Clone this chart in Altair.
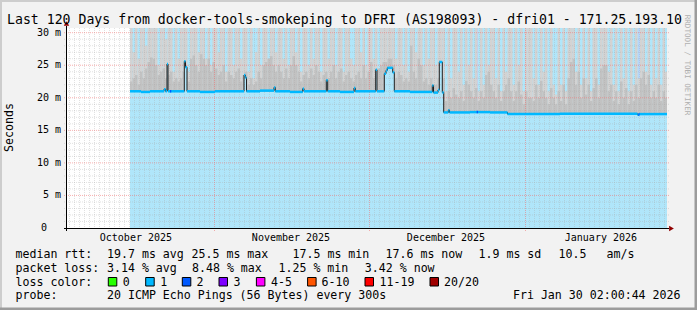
import altair as alt
import pandas as pd
import numpy as np

# ------------------------------------------------------------------ data
title_text = "Last 120 Days from docker-tools-smokeping to DFRI (AS198093) - dfri01 - 171.25.193.10"
y_title = "Seconds"
watermark = "RRDTOOL / TOBI OETIKER"

# x is measured in days since the graph start (Oct 2 2025 02:00)
month_labels = ["October 2025", "November 2025", "December 2025", "January 2026"]
month_label_day = [13.78, 44.8, 75.8, 106.78]
month_start_day = [29.5, 60.5, 91.7]

y_tick_values = [5, 10, 15, 20, 25, 30]
y_tick_labels = ["5 m", "10 m", "15 m", "20 m", "25 m", "30 m"]

median_day = [12.6, 14.8, 16.6, 19.4, 19.7, 20.0, 20.2, 23.46, 23.7, 24.0, 26.6, 29.6,
              35.4, 35.66, 35.9, 38.6, 41.4, 41.66, 44.6, 47.14, 47.4, 51.86, 52.14,
              54.6, 57.4, 57.66, 61.74, 62.0, 63.46, 63.8, 64.06, 65.14, 65.46, 68.6,
              73.06, 73.3, 74.2, 74.46, 75.06, 75.34, 76.26, 76.5, 80.6, 84.6, 88.1,
              98.6, 114.1, 114.4, 120.0]
median_ms = [21.0, 20.9, 21.0, 21.3, 21.0, 25.2, 21.0, 25.6, 24.7, 21.0, 20.9, 21.0,
             23.5, 23.1, 21.0, 21.1, 21.6, 21.0, 20.9, 21.4, 21.0, 22.7, 21.0,
             20.9, 21.5, 21.0, 24.3, 21.0, 23.7, 24.2, 24.6, 23.9, 21.0, 20.9,
             21.9, 20.8, 21.2, 25.5, 20.8, 17.75, 18.1, 17.75, 17.8, 17.75, 17.5,
             17.55, 17.4, 17.5, 17.5]

# slots where 2 of 20 pings were lost
loss2_day = [20.6, 81.94, 114.26]
loss2_ms = [21.0, 17.8, 17.45]

# smoke: one value per half-day slot, starting at day 12.6 (31 = off the top of the chart)
smoke_start_day = 12.6
smoke_outer_ms = [
    31, 27, 31, 26, 31, 31, 28, 31, 31, 31,
    31, 25, 31, 31, 29, 31, 31, 24, 31, 26,
    31, 31, 31, 24, 31, 31, 31, 27, 31, 31,
    26, 31, 25, 31, 31, 27, 31, 31, 24, 31,
    31, 25, 31, 31, 26, 31, 31, 24, 31, 23,
    27, 31, 25, 31, 31, 26, 31, 31, 27, 31,
    31, 26, 31, 25, 31, 31, 27, 31, 24, 31,
    31, 25, 31, 26, 31, 31, 24, 31, 31, 26,
    31, 31, 25, 31, 31, 24, 31, 31, 26, 25,
    31, 31, 27, 31, 25, 31, 31, 26, 31, 24,
    31, 31, 31, 31, 31, 31, 26, 31, 31, 25,
    31, 24, 31, 31, 27, 31, 31, 25, 31, 26,
    31, 31, 25, 31, 31, 31, 21, 31, 23, 31,
    31, 24, 31, 22, 31, 25, 31, 23, 31, 21,
    31, 22, 31, 25, 31, 31, 23, 31, 21, 31,
    24, 31, 31, 22, 31, 25, 31, 21, 31, 31,
    31, 23, 31, 22, 31, 24, 31, 21, 31, 22,
    20.5, 31, 22, 31, 21, 31, 31, 31, 24, 31,
    22, 31, 23, 31, 21, 31, 31, 22, 31, 31,
    31, 24, 31, 22, 31, 21, 31, 23, 31, 21,
    31, 22, 31, 23, 31, 31, 24, 31, 22, 31,
    23, 31, 22, 31, 24]
smoke_inner_ms = [
    22.5, 23, 23.5, 22, 24, 23, 24.5, 25.5, 26.2, 26,
    25, 23.5, 24, 24.5, 23, 23.5, 24, 22.5, 23, 22.5,
    23, 24, 25, 22.5, 26, 26.5, 25, 24, 26.7, 26,
    25, 26, 24, 25.5, 24.5, 23.5, 24, 25, 22.5, 24,
    23.5, 23, 24, 24.5, 22.5, 23.5, 24, 22, 23, 22,
    22.5, 24, 23, 25, 25.5, 26, 26.4, 25, 24, 25,
    24, 23, 24.5, 23, 25, 26.4, 25, 24, 22.5, 23.5,
    24, 23, 24.5, 23.5, 25, 24, 22.5, 23.5, 24, 23,
    24, 25, 23, 24, 24.5, 22.5, 23.5, 24, 23, 22.5,
    23.5, 24, 23, 25, 23, 24, 25.5, 23, 24, 24.5,
    25, 25.5, 25.5, 26, 26, 25, 23, 24, 23.5, 22.5,
    23, 22.5, 28, 24, 23, 26, 25, 22.5, 23, 22,
    23, 22, 22, 23, 24, 23, 19.5, 21, 20, 21.5,
    20.5, 20, 21, 19.5, 22.6, 22, 21, 20, 21.5, 19.5,
    21, 20, 23.5, 24, 22, 21, 20, 22, 19.5, 21,
    22, 23, 21, 19.5, 21, 22.5, 20.5, 19, 21, 20,
    20, 19.5, 22, 20, 22.6, 21, 20, 19, 21.5, 20,
    19, 21, 19.5, 22, 19, 23, 25.5, 26, 22, 24,
    20, 23, 20.5, 22, 19.5, 21.5, 23, 20, 24.5, 25,
    25, 21, 22, 19.5, 21, 19, 22.5, 20, 21.5, 19,
    21, 19.5, 22, 20, 23, 24, 22, 23.5, 20, 21,
    20, 22, 19.5, 21, 20]

legend_rtt = ["median rtt:", "19.7 ms avg", "25.5 ms max", "17.5 ms min",
              "17.6 ms now", "1.9 ms sd", "10.5", "am/s"]
legend_loss = ["packet loss:", "3.14 % avg", "8.48 % max", "1.25 % min", "3.42 % now"]
legend_color_title = "loss color:"
loss_labels = ["0", "1", "2", "3", "4-5", "6-10", "11-19", "20/20"]
loss_colors = ["#26ff00", "#00b8ff", "#0059ff", "#7e00ff", "#ff00ff", "#ff5500", "#ff0000", "#a00000"]
legend_probe = ["probe:", "20 ICMP Echo Pings (56 Bytes) every 300s", "Fri Jan 30 02:00:44 2026"]

# ------------------------------------------------------------------ layout / style
FONT = "DejaVu Sans Mono"
W, H = 600, 200
PL, PT = 67, 28          # plot origin on the page
YMAX = 30.72
LIGHTBLUE = "#B0E6FA"
LOSS2_BG = "#B9CCFB"
SMOKE_OUT = "#D3D3D3"
SMOKE_IN = "#C2C2C2"
GRID = "#A8A8A8"
MGRID = "#F07070"
ARROW = "#900000"

xs = alt.Scale(domain=[0, 120], nice=False, zero=False)
ys = alt.Scale(domain=[0, YMAX], nice=False, zero=False)
one = pd.DataFrame({"a": [0]})


def X(f):
    return alt.X(f, type="quantitative", scale=xs, axis=None)


def Y(f):
    return alt.Y(f, type="quantitative", scale=ys, axis=None)


def ax(px):   # absolute page x -> plot coords
    return px - PL


def ay(py):
    return py - PT


def txt(s, x, y, size=11.6, align="left", baseline="alphabetic", angle=0, color="#000000"):
    return alt.Chart(one).mark_text(text=s, font=FONT, fontSize=size, align=align,
                                    baseline=baseline, angle=angle, color=color).encode(
        x=alt.value(x), y=alt.value(y))


def box(x0, x1, y0, y1, fill, stroke=None):
    kw = dict(fill=fill)
    if stroke:
        kw.update(stroke=stroke, strokeWidth=1)
    return alt.Chart(one).mark_rect(**kw).encode(
        x=alt.value(x0), x2=alt.value(x1), y=alt.value(y0), y2=alt.value(y1))


layers = []

# light blue loss background over the measured period
bg = pd.DataFrame({"d0": [median_day[0]], "d1": [median_day[-1]]})
layers.append(alt.Chart(bg).mark_rect(color=LIGHTBLUE).encode(
    x=X("d0"), x2="d1", y=alt.value(0), y2=alt.value(H)))

l2 = pd.DataFrame({"d0": loss2_day, "d1": [d + 0.25 for d in loss2_day], "ms": loss2_ms})
layers.append(alt.Chart(l2).mark_rect(color=LOSS2_BG).encode(
    x=X("d0"), x2="d1", y=alt.value(0), y2=alt.value(H)))

# smoke (outer band first, inner band drawn over it)
n = len(smoke_outer_ms)
slot0 = smoke_start_day + 0.5 * np.arange(n)
slot1 = np.minimum(slot0 + 0.5, 120.0)
smoke = pd.concat([
    pd.DataFrame({"d0": slot0, "d1": slot1, "top": np.array(smoke_outer_ms, float), "band": "outer"}),
    pd.DataFrame({"d0": slot0, "d1": slot1, "top": np.array(smoke_inner_ms, float), "band": "inner"}),
], ignore_index=True)
layers.append(alt.Chart(smoke).transform_calculate(
    topc=f"min(datum.top, {YMAX})"
).mark_rect().encode(
    x=X("d0"), x2="d1", y=Y("topc"), y2=alt.value(H),
    color=alt.Color("band:N", scale=alt.Scale(domain=["outer", "inner"],
                                              range=[SMOKE_OUT, SMOKE_IN]), legend=None)))

# area below median
med = pd.DataFrame({"day": median_day, "ms": median_ms})
med["next"] = med["day"].shift(-1).fillna(median_day[-1])
layers.append(alt.Chart(med).mark_area(interpolate="step-after", color=LIGHTBLUE).encode(
    x=X("day"), y=Y("ms"), y2=alt.value(H)))

# grid
minor_days = [d for d in np.arange(0.5, 120, 1.0) if all(abs(d - m) > 0.3 for m in month_start_day)]
layers.append(alt.Chart(pd.DataFrame({"d": minor_days})).mark_rule(
    color=GRID, strokeDash=[1, 1], strokeWidth=1, opacity=0.35).encode(
    x=X("d"), y=alt.value(0), y2=alt.value(H + 2)))
minor_ms = [v for v in range(1, 31) if v % 5 != 0]
layers.append(alt.Chart(pd.DataFrame({"v": minor_ms})).mark_rule(
    color=GRID, strokeDash=[1, 1], strokeWidth=1, opacity=0.35).encode(
    y=Y("v"), x=alt.value(-3), x2=alt.value(W + 2)))
layers.append(alt.Chart(pd.DataFrame({"d": month_start_day})).mark_rule(
    color=MGRID, strokeDash=[1, 1], strokeWidth=1, opacity=0.55).encode(
    x=X("d"), y=alt.value(0), y2=alt.value(H + 3)))
layers.append(alt.Chart(pd.DataFrame({"v": y_tick_values})).mark_rule(
    color=MGRID, strokeDash=[1, 1], strokeWidth=1, opacity=0.55).encode(
    y=Y("v"), x=alt.value(-3), x2=alt.value(W + 2)))

# median line
layers.append(alt.Chart(med).mark_line(interpolate="step-after", color="#202020",
                                       strokeWidth=1).encode(x=X("day"), y=Y("ms")))
layers.append(alt.Chart(med.iloc[:-1]).mark_rule(color="#00B8FF", strokeWidth=2.5).encode(
    x=X("day"), x2="next", y=Y("ms")))
layers.append(alt.Chart(l2).mark_rule(color="#0059FF", strokeWidth=2.5).encode(
    x=X("d0"), x2="d1", y=Y("ms")))

# axes
layers.append(alt.Chart(one).mark_rule(color="#000000", strokeWidth=1).encode(
    x=alt.value(-3), x2=alt.value(W + 2), y=alt.value(H + 0.5)))
layers.append(alt.Chart(one).mark_rule(color="#000000", strokeWidth=1).encode(
    x=alt.value(-0.5), y=alt.value(-2), y2=alt.value(H + 3)))
layers.append(alt.Chart(one).mark_point(shape="triangle-right", filled=True, size=30,
                                        color=ARROW, opacity=1).encode(
    x=alt.value(ax(671.5)), y=alt.value(H + 0.5)))
layers.append(alt.Chart(one).mark_point(shape="triangle-up", filled=True, size=30,
                                        color=ARROW, opacity=1).encode(
    x=alt.value(-0.5), y=alt.value(ay(23.5))))

# axis labels
layers.append(alt.Chart(pd.DataFrame({"v": y_tick_values, "t": y_tick_labels})).mark_text(
    font=FONT, fontSize=10, align="right", baseline="middle", color="#000000").encode(
    y=Y("v"), x=alt.value(-6), text="t:N"))
layers.append(txt("0", -20, H, size=10, align="right", baseline="middle"))
layers.append(alt.Chart(pd.DataFrame({"d": month_label_day, "t": month_labels})).mark_text(
    font=FONT, fontSize=10, align="center", baseline="alphabetic", color="#000000").encode(
    x=X("d"), y=alt.value(ay(240.6)), text="t:N"))

# titles
layers.append(txt(title_text, ax(7), ay(24), size=13.2))
layers.append(txt(y_title, ax(10), ay(127.5), size=11.6, align="center", baseline="middle", angle=270))
layers.append(txt(watermark, ax(687), ay(65), size=7.6, align="center", baseline="middle",
                  angle=90, color="#B0B0B0"))

# legend
rtt_x = [15.5, 107, 191.5, 292.5, 385.5, 478.5, 558.5, 606.5]
for s, x in zip(legend_rtt, rtt_x):
    layers.append(txt(s, ax(x), ay(258)))
loss_x = [15.5, 107, 192, 278.5, 364.8]
for s, x in zip(legend_loss, loss_x):
    layers.append(txt(s, ax(x), ay(271.5)))
layers.append(txt(legend_color_title, ax(15.5), ay(285.5)))
box_x = [108.3, 145.7, 182.3, 219, 256.4, 307.6, 365, 430]
lab_x = [122.8, 160.3, 196.5, 233.5, 271, 321.5, 379.5, 444]
for lab, col, bx, lx in zip(loss_labels, loss_colors, box_x, lab_x):
    layers.append(box(ax(bx), ax(bx + 8.5), ay(277.5), ay(286), col, "#000000"))
    layers.append(txt(lab, ax(lx), ay(285.5)))
layers.append(txt(legend_probe[0], ax(15.5), ay(299.3)))
layers.append(txt(legend_probe[1], ax(107), ay(299.3)))
layers.append(txt(legend_probe[2], ax(680.5), ay(299.3), align="right"))

# frame
layers.append(box(ax(0), ax(2), ay(0), ay(310), "#CDCDCD"))
layers.append(box(ax(0), ax(697), ay(0), ay(2), "#CDCDCD"))
layers.append(box(ax(694.5), ax(697), ay(0), ay(310), "#9C9C9C"))
layers.append(box(ax(0), ax(697), ay(307.5), ay(310), "#9C9C9C"))

chart = alt.layer(*layers).properties(
    width=W, height=H,
    padding={"left": PL, "top": PT, "right": 697 - PL - W, "bottom": 310 - PT - H},
    autosize=alt.AutoSizeParams(type="none"),
    background="#F2F2F2",
).configure_view(stroke=None, fill="#FFFFFF")

chart.save("out.html", embed_options={"renderer": "svg", "actions": False})
